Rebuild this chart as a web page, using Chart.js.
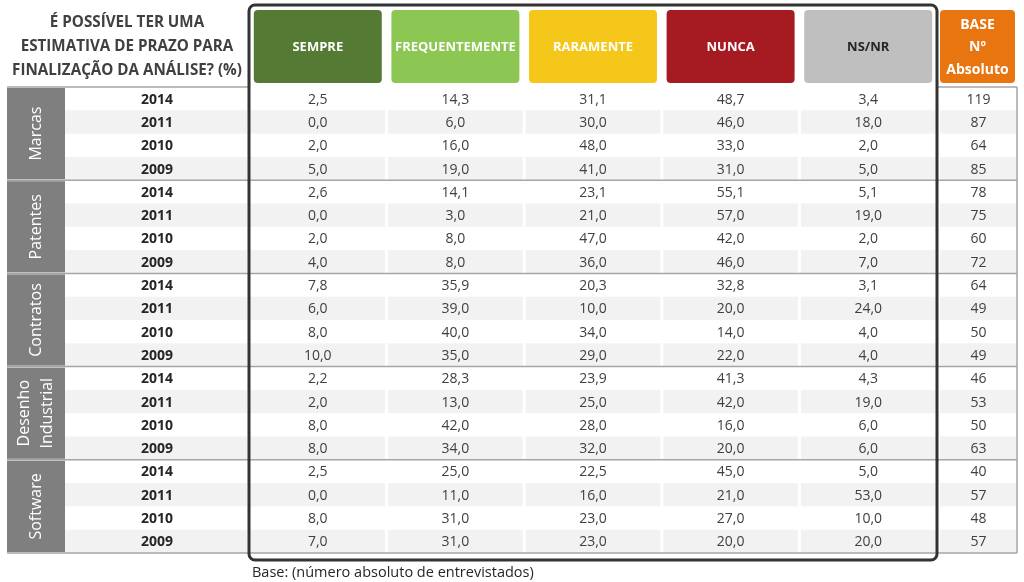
<!DOCTYPE html>
<html lang="pt">
<head>
<meta charset="UTF-8">
<title>Estimativa de prazo para finalização da análise</title>
<script src="https://cdn.jsdelivr.net/npm/chart.js@4.4.0/dist/chart.umd.min.js"></script>
<style>
    body { margin: 0; background: #fff; }
    .wrap { width: 1024px; height: 582px; }
</style>
</head>
<body>
<div class="wrap"><canvas id="tabela" width="1024" height="582"></canvas></div>
<script>
// dados
const grupos = ['Marcas', 'Patentes', 'Contratos', 'Desenho Industrial', 'Software'];
const anos = ['2014', '2011', '2010', '2009'];
const colunas = ['SEMPRE', 'FREQUENTEMENTE', 'RARAMENTE', 'NUNCA', 'NS/NR'];
const sempre = [2.5, 0.0, 2.0, 5.0, 2.6, 0.0, 2.0, 4.0, 7.8, 6.0, 8.0, 10.0, 2.2, 2.0, 8.0, 8.0, 2.5, 0.0, 8.0, 7.0];
const frequentemente = [14.3, 6.0, 16.0, 19.0, 14.1, 3.0, 8.0, 8.0, 35.9, 39.0, 40.0, 35.0, 28.3, 13.0, 42.0, 34.0, 25.0, 11.0, 31.0, 31.0];
const raramente = [31.1, 30.0, 48.0, 41.0, 23.1, 21.0, 47.0, 36.0, 20.3, 10.0, 34.0, 29.0, 23.9, 25.0, 28.0, 32.0, 22.5, 16.0, 23.0, 23.0];
const nunca = [48.7, 46.0, 33.0, 31.0, 55.1, 57.0, 42.0, 46.0, 32.8, 20.0, 14.0, 22.0, 41.3, 42.0, 16.0, 20.0, 45.0, 21.0, 27.0, 20.0];
const nsnr = [3.4, 18.0, 2.0, 5.0, 5.1, 19.0, 2.0, 7.0, 3.1, 24.0, 4.0, 4.0, 4.3, 19.0, 6.0, 6.0, 5.0, 53.0, 10.0, 20.0];
const base = [119, 87, 64, 85, 78, 75, 60, 72, 64, 49, 50, 49, 46, 53, 50, 63, 40, 57, 48, 57];

const series = [sempre, frequentemente, raramente, nunca, nsnr];
const linhas = grupos.flatMap(g => anos.map(a => g + ' ' + a));

// estilos
const coresCab = ['#557A33', '#8CC653', '#F5C71A', '#A61B22', '#BFBFBF'];
const corTextoCab = ['#fff', '#fff', '#fff', '#fff', '#262626'];
const FONTE = "'Open Sans', 'Noto Sans', sans-serif";
const ESQ = 7, GRUPO_DIR = 65, DIR = 1017;

function fmt(v) {
    return v.toFixed(1).replace('.', ',');
}

const tabelaPlugin = {
    id: 'tabela',
    beforeDatasetsDraw(chart) {
        const { ctx, chartArea: a, scales: { x, y } } = chart;
        const h = y.getPixelForValue(1) - y.getPixelForValue(0);
        const w = x.getPixelForValue(1) - x.getPixelForValue(0);
        const baseL = a.right + 3;
        ctx.save();

        // faixas alternadas
        ctx.fillStyle = '#F2F2F2';
        linhas.forEach((l, i) => {
            if (i % 2 === 0) return;
            const yc = y.getPixelForValue(i);
            ctx.fillRect(GRUPO_DIR, yc - h / 2, a.left - 2 - GRUPO_DIR, h);
            colunas.forEach((c, j) => {
                const xc = x.getPixelForValue(j);
                ctx.fillRect(xc - w / 2 + 1.5, yc - h / 2, w - 3, h);
            });
            ctx.fillRect(baseL, yc - h / 2, DIR - baseL, h);
        });

        // linhas horizontais
        ctx.strokeStyle = '#A6A6A6';
        ctx.lineWidth = 1.5;
        for (let g = 0; g <= grupos.length; g++) {
            const yy = a.top + g * 4 * h;
            ctx.beginPath();
            if (g === 0) {
                ctx.moveTo(ESQ, yy); ctx.lineTo(a.left, yy);
                ctx.moveTo(a.right, yy); ctx.lineTo(DIR, yy);
            } else {
                ctx.moveTo(ESQ, yy); ctx.lineTo(DIR, yy);
            }
            ctx.stroke();
        }
        ctx.beginPath();
        ctx.moveTo(DIR, a.top); ctx.lineTo(DIR, a.bottom);
        ctx.stroke();

        // blocos dos grupos
        grupos.forEach((g, k) => {
            const top = y.getPixelForValue(k * 4) - h / 2;
            const bot = y.getPixelForValue(k * 4 + 3) + h / 2;
            ctx.fillStyle = '#7F7F7F';
            ctx.fillRect(ESQ, top + 1, GRUPO_DIR - ESQ, bot - top - 2);
            ctx.save();
            ctx.translate((ESQ + GRUPO_DIR) / 2, (top + bot) / 2);
            ctx.rotate(-Math.PI / 2);
            ctx.fillStyle = '#fff';
            ctx.font = '16px ' + FONTE;
            ctx.textAlign = 'center';
            ctx.textBaseline = 'middle';
            const partes = g.split(' ');
            partes.forEach((p, n) => {
                ctx.fillText(p, 0, (n - (partes.length - 1) / 2) * 23);
            });
            ctx.restore();
        });

        // cabeçalhos
        ctx.textAlign = 'center';
        ctx.textBaseline = 'middle';
        ctx.font = 'bold 13px ' + FONTE;
        colunas.forEach((c, j) => {
            const xc = x.getPixelForValue(j);
            ctx.fillStyle = coresCab[j];
            ctx.beginPath();
            ctx.roundRect(xc - 64, 10, 128, 73, 4);
            ctx.fill();
            ctx.fillStyle = corTextoCab[j];
            ctx.fillText(c, xc, 47);
        });
        ctx.fillStyle = '#E8750F';
        ctx.beginPath();
        ctx.roundRect(baseL, 10, 75, 73, 4);
        ctx.fill();
        ctx.fillStyle = '#fff';
        ctx.font = 'bold 14px ' + FONTE;
        ['BASE', 'Nº', 'Absoluto'].forEach((t, n) => {
            ctx.fillText(t, baseL + 37.5, 25 + n * 22.5);
        });

        // título
        ctx.fillStyle = '#404040';
        ctx.font = 'bold 15.2px ' + FONTE;
        ['É POSSÍVEL TER UMA', 'ESTIMATIVA DE PRAZO PARA', 'FINALIZAÇÃO DA ANÁLISE? (%)'].forEach((t, n) => {
            ctx.fillText(t, 127, 23 + n * 24);
        });
        ctx.restore();
    },
    afterDatasetsDraw(chart) {
        const { ctx, chartArea: a, scales: { y } } = chart;
        ctx.save();
        ctx.textAlign = 'center';
        ctx.textBaseline = 'middle';

        // anos
        ctx.fillStyle = '#262626';
        ctx.font = 'bold 14px ' + FONTE;
        linhas.forEach((l, i) => {
            ctx.fillText(anos[i % 4], (GRUPO_DIR + a.left) / 2, y.getPixelForValue(i) + 1);
        });

        // valores
        ctx.fillStyle = '#404040';
        ctx.font = '14px ' + FONTE;
        chart.data.datasets.forEach((ds, j) => {
            chart.getDatasetMeta(j).data.forEach((pt, i) => {
                ctx.fillText(fmt(series[j][i]), pt.x, pt.y + 1);
            });
        });
        base.forEach((v, i) => {
            ctx.fillText(String(v), (a.right + 3 + DIR) / 2, y.getPixelForValue(i) + 1);
        });

        // moldura
        ctx.strokeStyle = '#333';
        ctx.lineWidth = 3;
        ctx.beginPath();
        ctx.roundRect(a.left, 5, a.right - a.left, 555, 6);
        ctx.stroke();

        // rodapé
        ctx.fillStyle = '#262626';
        ctx.font = '14.5px ' + FONTE;
        ctx.textAlign = 'left';
        ctx.fillText('Base: (número absoluto de entrevistados)', 252, 573);
        ctx.restore();
    }
};

new Chart(document.getElementById('tabela'), {
    type: 'scatter',
    data: {
        datasets: colunas.map((c, j) => ({
            label: c,
            data: series[j].map((v, i) => ({ x: c, y: linhas[i] })),
            pointRadius: 0,
            pointHoverRadius: 0
        }))
    },
    options: {
        responsive: false,
        animation: false,
        layout: { padding: { left: 249, right: 87, top: 87, bottom: 29 } },
        plugins: { legend: { display: false }, tooltip: { enabled: false } },
        scales: {
            x: { type: 'category', labels: colunas, offset: true, display: false },
            y: { type: 'category', labels: linhas, offset: true, display: false }
        }
    },
    plugins: [tabelaPlugin]
});
</script>
</body>
</html>
